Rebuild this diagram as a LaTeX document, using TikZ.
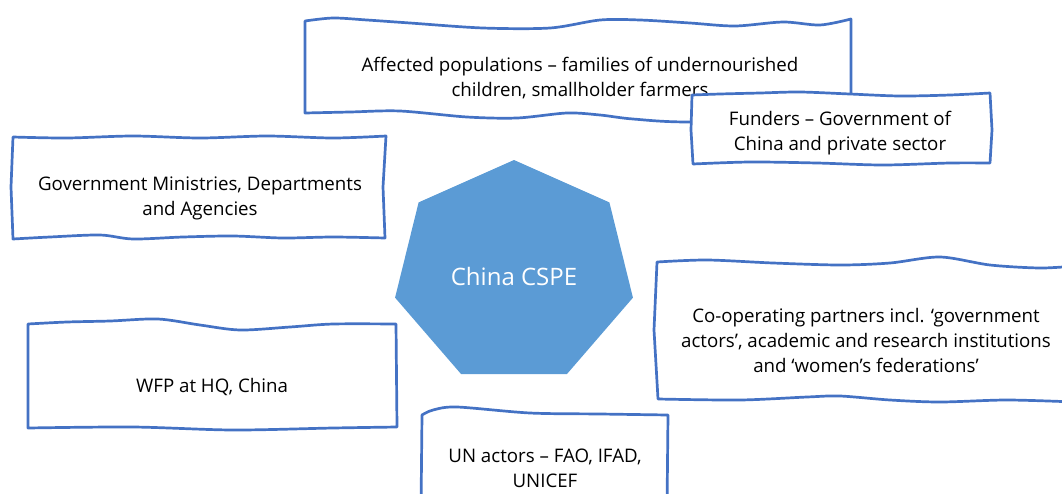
\documentclass[tikz,border=0pt]{standalone}
\usepackage{fontspec}
\setmainfont{Open Sans}
\usetikzlibrary{
	positioning
}
\definecolor{FrameBlue}{RGB}{68,114,196}
\definecolor{HubBlue}{RGB}{91,155,213}

\tikzset{
	frame/.style={
		draw=FrameBlue,
		line width=2.7pt,
		line join=round,
		line cap=round
	},
	boxtext/.style={
		align=center,
		inner sep=0pt,
		font=\fontsize{18.7}{25}\selectfont
	}
}

\begin{document}
\begin{tikzpicture}[x=1pt,y=-1pt]
				
				\useasboundingbox (0,0) rectangle (1062,493);
				\clip (0,0) rectangle (1062,493);
				
				% centre heptagon
				\fill[HubBlue, shift={(514,272.6)}]
				(270:122 and 112.6)
				\foreach \k in {1,...,6}{ -- (270+\k*360/7:122 and 112.6)}
				-- cycle;
				\node[
				text=white,
				font=\fontsize{24}{28}\selectfont
				]
				(H) at (514,276)
				{China CSPE};
				
				% affected populations
				\draw[frame]
				plot[smooth] coordinates {(305,21) (333,18) (367,20) (410,23) (483,28)
					(550,28) (600,20) (640,20) (690,23) (735,26) (783,22) (820,25) (851,19)}
				-- (851,118)
				-- plot[smooth] coordinates {(851,118) (693,122) (633,119) (600,115)
					(567,113) (517,118) (467,117) (400,111) (350,112) (305,113)}
				-- cycle;
				\node[boxtext] (A) at (580,78)
				{Affected populations -- families of undernourished\\children, smallholder farmers};
				
				% funders, laid over the box above
				\filldraw[frame, fill=white]
				plot[smooth] coordinates {(692,95) (720,94) (760,93) (800,92) (850,94)
					(900,96) (950,95) (990,93)}
				-- (992,130) -- (990,163)
				-- plot[smooth] coordinates {(990,163) (950,163) (883,165) (817,163)
					(750,162) (693,164)}
				-- (691,130) -- cycle;
				\node[boxtext] (Fu) at (840,133)
				{Funders -- Government of\\China and private sector};
				
				% government
				\draw[frame]
				plot[smooth] coordinates {(13,137) (67,138) (133,136) (200,138) (267,136)
					(333,138) (386,136)}
				-- (383,187) -- (385,238)
				-- plot[smooth] coordinates {(385,238) (333,237) (283,238) (233,236)
					(183,237) (133,239) (100,235) (50,237) (13,239)}
				-- (11,187) -- cycle;
				\node[boxtext] (G) at (200,198)
				{Government Ministries, Departments\\and Agencies};
				
				% WFP
				\draw[frame]
				plot[smooth] coordinates {(28,324) (67,322) (110,321) (158,319) (200,325)
					(240,330) (290,327) (333,324) (396,324)}
				-- (397,427)
				-- plot[smooth] coordinates {(397,427) (333,428) (233,430) (133,427)
					(28,428)}
				-- cycle;
				\node[boxtext] (W) at (212,387)
				{WFP at HQ, China};
				
				% co-operating partners
				\draw[frame]
				plot[smooth] coordinates {(657,262) (707,260) (773,263) (840,265)
					(890,263) (940,257) (990,265) (1040,268) (1075,266)}
				-- (1075,402)
				-- plot[smooth] coordinates {(1075,402) (1007,400) (940,402) (890,400)
					(840,396) (807,397) (740,400) (658,399)}
				-- (654,330) -- cycle;
				\node[boxtext] (Co) at (866,340)
				{Co-operating partners incl. `government\\actors', academic and research institutions\\and `women's federations'};
				
				% UN actors
				\draw[frame]
				plot[smooth] coordinates {(422,415) (433,410) (457,407) (530,413)
					(600,414) (668,415)}
				-- (667,510) -- (421,510) -- cycle;
				\node[boxtext] (U) at (545,468)
				{UN actors -- FAO, IFAD,\\UNICEF};
				
			\end{tikzpicture}
\end{document}
